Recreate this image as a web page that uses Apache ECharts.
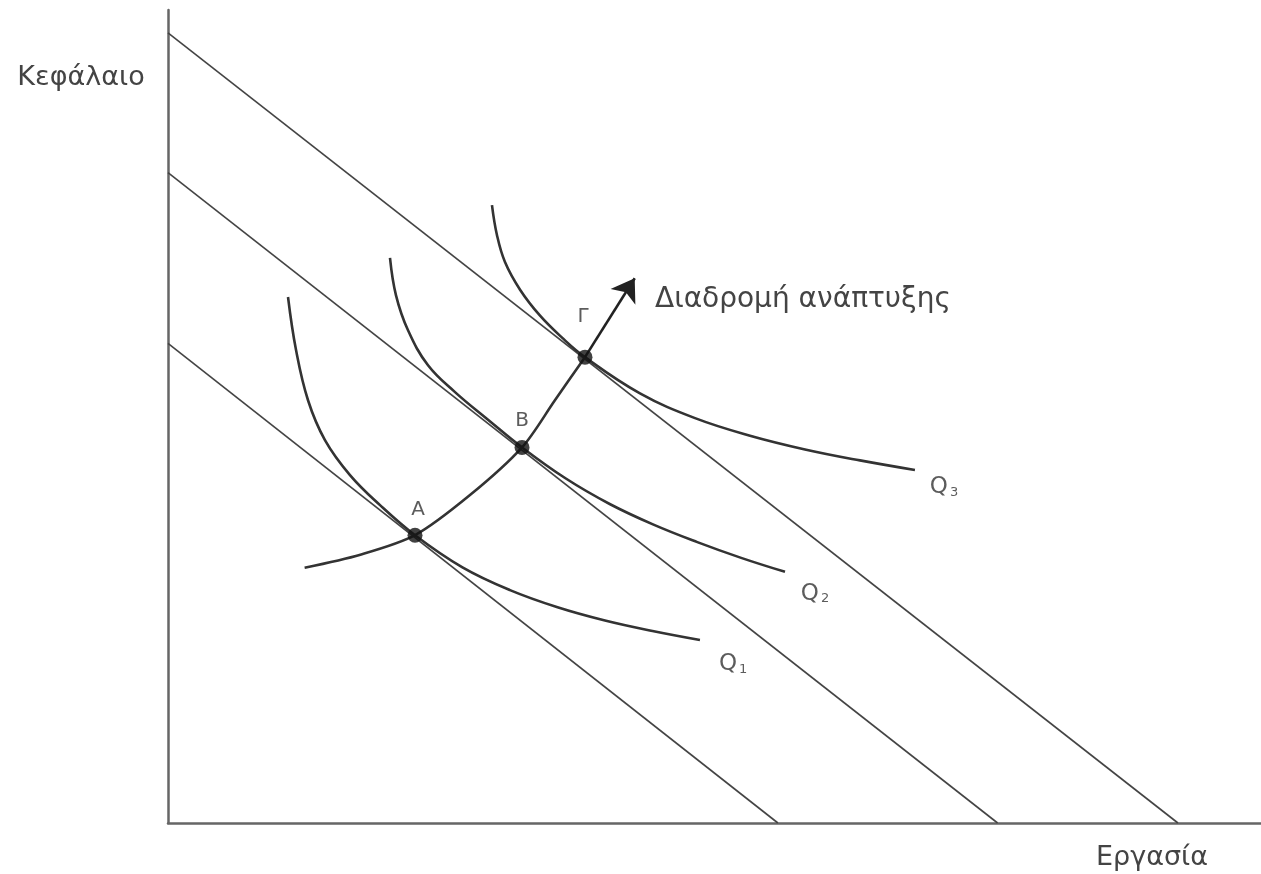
<!DOCTYPE html>
<html>
<head>
<meta charset="utf-8">
<script src="https://cdn.jsdelivr.net/npm/echarts@6/dist/echarts.min.js"></script>
<style>html,body{margin:0;padding:0;background:#fff;}#c{width:1261px;height:874px;}</style>
</head>
<body>
<div id="c"></div>
<script>
// Isocost lines: [y-intercept point, x-intercept point]
var isocost1 = [[0, 5.90], [5.58, 0]];
var isocost2 = [[0, 8.00], [7.59, 0]];
var isocost3 = [[0, 9.72], [9.24, 0]];
// Isoquants
var q1 = [[1.098, 6.47], [1.171, 5.82], [1.281, 5.20], [1.436, 4.71], [1.665, 4.28], [1.940, 3.91], [2.260, 3.54],
          [2.694, 3.145], [3.129, 2.865], [3.564, 2.654], [3.998, 2.491], [4.433, 2.362], [4.867, 2.251]];
var q2 = [[2.031, 6.95], [2.086, 6.49], [2.196, 6.06], [2.379, 5.63], [2.626, 5.30], [2.928, 4.96], [3.239, 4.62],
          [3.640, 4.237], [4.041, 3.924], [4.442, 3.670], [4.843, 3.455], [5.244, 3.261], [5.645, 3.089]];
var q3 = [[2.964, 7.60], [3.010, 7.23], [3.083, 6.90], [3.221, 6.56], [3.404, 6.24], [3.605, 5.97], [3.815, 5.73],
          [4.318, 5.285], [4.822, 4.980], [5.325, 4.764], [5.828, 4.595], [6.331, 4.460], [6.834, 4.342]];
// Expansion path
var expansion = [[1.25, 3.14], [1.76, 3.30], [2.26, 3.54], [2.76, 4.03], [3.239, 4.62], [3.54, 5.20], [3.815, 5.73]];
var arrowSeg = [[3.815, 5.73], [4.27, 6.70]];
// Equilibrium points
var pointNames = ['A', 'B', 'Γ'];
var points = [[2.26, 3.54], [3.239, 4.62], [3.815, 5.73]];
// Isoquant labels
var qNames = ['1', '2', '3'];
var qLabelPos = [[5.17, 1.95], [5.92, 2.82], [7.10, 4.13]];

var chart = echarts.init(document.getElementById('c'));
var font = 'DejaVu Sans';
var lineCol = '#444';
var curveCol = '#333';

function lineSeries(d, w, col, smooth) {
  return { type: 'line', data: d, showSymbol: false, smooth: smooth, symbol: 'none',
    lineStyle: { color: col, width: w }, silent: true, z: 2 };
}

var option = {
  animation: false,
  backgroundColor: '#fff',
  grid: { left: 168, right: 0, top: 10, bottom: 51 },
  xAxis: { type: 'value', min: 0, max: 10, axisLine: { show: true, onZero: false, lineStyle: { color: '#666', width: 2.5 } },
    axisTick: { show: false }, axisLabel: { show: false }, splitLine: { show: false } },
  yAxis: { type: 'value', min: 0, max: 10, axisLine: { show: true, onZero: false, lineStyle: { color: '#666', width: 2.5 } },
    axisTick: { show: false }, axisLabel: { show: false }, splitLine: { show: false } },
  series: [
    lineSeries(isocost1, 1.6, lineCol, false),
    lineSeries(isocost2, 1.6, lineCol, false),
    lineSeries(isocost3, 1.6, lineCol, false),
    lineSeries(q1, 2.6, curveCol, 0.4),
    lineSeries(q2, 2.6, curveCol, 0.4),
    lineSeries(q3, 2.6, curveCol, 0.4),
    lineSeries(expansion, 2.6, curveCol, 0.3),
    { type: 'lines', coordinateSystem: 'cartesian2d', polyline: false,
      symbol: ['none', 'arrow'], symbolSize: [0, 22],
      lineStyle: { color: '#222', width: 2.6, opacity: 1 },
      data: [{ coords: arrowSeg }], z: 3 },
    { type: 'scatter', symbol: 'circle', symbolSize: 15, itemStyle: { color: '#111' }, z: 5,
      data: points.map(function (p, i) {
        var off = [[3, -3], [0, -4], [-2, -18]][i];
        return { value: p, label: { show: true, position: 'top', offset: off, formatter: pointNames[i],
          fontFamily: font, fontSize: 20, color: '#333' } };
      }) },
    { type: 'scatter', symbolSize: 0, silent: true, z: 5,
      data: qLabelPos.map(function (p, i) {
        return { value: p, label: { show: true, position: 'inside', formatter: '{q|Q}{s|' + qNames[i] + '}',
          rich: { q: { fontFamily: font, fontSize: 23, color: '#333' },
                  s: { fontFamily: font, fontSize: 13, color: '#333', verticalAlign: 'bottom', padding: [10, 0, 0, 2] } } } };
      }) }
  ],
  graphic: [
    { type: 'text', x: 81, y: 78, style: { text: 'Κεφάλαιο', font: '27px "DejaVu Sans"', fill: '#444', align: 'center', verticalAlign: 'middle' } },
    { type: 'text', x: 1152, y: 858, style: { text: 'Εργασία', font: '27px "DejaVu Sans"', fill: '#444', align: 'center', verticalAlign: 'middle' } },
    { type: 'text', x: 655, y: 300, style: { text: 'Διαδρομή ανάπτυξης', font: '28px "DejaVu Sans"', fill: '#444', align: 'left', verticalAlign: 'middle' } }
  ]
};
chart.setOption(option);
</script>
</body>
</html>
